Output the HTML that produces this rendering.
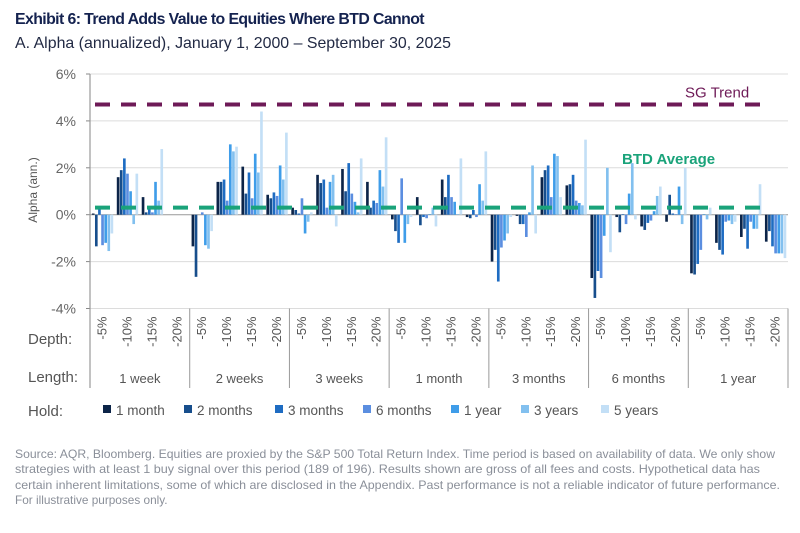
<!DOCTYPE html>
<html><head><meta charset="utf-8"><style>
body{margin:0;background:#fff;width:800px;height:528px;overflow:hidden;font-family:"Liberation Sans",sans-serif;}
</style></head><body>
<svg id="chart" width="800" height="528" xmlns="http://www.w3.org/2000/svg" font-family="Liberation Sans, sans-serif">
<text x="15" y="24" font-size="16" font-weight="bold" fill="#14224f" letter-spacing="-0.6" textLength="409" lengthAdjust="spacingAndGlyphs">Exhibit 6: Trend Adds Value to Equities Where BTD Cannot</text>
<text x="15" y="48" font-size="16" fill="#222a44" textLength="436" lengthAdjust="spacingAndGlyphs">A. Alpha (annualized), January 1, 2000 – September 30, 2025</text>
<g id="grid"></g><g id="bars"></g><g id="axes"></g>
<text transform="translate(37,190) rotate(-90)" text-anchor="middle" font-size="12" fill="#555">Alpha (ann.)</text>
<text x="28" y="344" font-size="15" fill="#555">Depth:</text>
<text x="28" y="382" font-size="15" fill="#555">Length:</text>
<text x="28" y="416" font-size="15" fill="#555">Hold:</text>
<g id="legend"></g>
<g font-size="11.8" fill="#8a8f99">
<text x="15" y="458" textLength="760" lengthAdjust="spacingAndGlyphs">Source: AQR, Bloomberg. Equities are proxied by the S&amp;P 500 Total Return Index. Time period is based on availability of data. We only show</text>
<text x="15" y="473" textLength="745" lengthAdjust="spacingAndGlyphs">strategies with at least 1 buy signal over this period (189 of 196). Results shown are gross of all fees and costs. Hypothetical data has</text>
<text x="15" y="489" textLength="765" lengthAdjust="spacingAndGlyphs">certain inherent limitations, some of which are disclosed in the Appendix. Past performance is not a reliable indicator of future performance.</text>
<text x="15" y="504">For illustrative purposes only.</text>
</g>
</svg>
<script>
const lengths=["1 week","2 weeks","3 weeks","1 month","3 months","6 months","1 year"];
const depths=["-5%","-10%","-15%","-20%"];
const holds=["1 month","2 months","3 months","6 months","1 year","3 years","5 years"];
const yTicks=[6,4,2,0,-2,-4];
const sgTrend=4.7;
const btdAverage=0.3;
// values[length][depth][hold], null = no signal
const values=[
[[0.05,-1.35,0.25,-1.3,-1.2,-1.55,-0.8],[1.6,1.9,2.4,1.75,1.0,-0.4,1.75],[0.75,0.1,0.3,0.1,1.4,0.6,2.8],[null,null,null,null,null,null,null]],
[[-1.35,-2.65,null,0.1,-1.3,-1.45,-0.7],[1.4,1.4,1.5,0.6,3.0,2.7,2.9],[2.05,0.9,1.8,0.7,2.6,1.8,4.4],[0.85,0.7,0.95,0.8,2.1,1.5,3.5]],
[[0.3,0.2,0.05,0.7,-0.8,-0.3,0.1],[1.7,1.35,1.5,0.3,1.4,1.7,-0.5],[1.95,1.0,2.2,0.9,0.55,0.1,2.4],[1.4,0.3,0.6,0.5,1.9,1.2,3.3]],
[[-0.2,-0.7,-1.2,1.55,-1.2,-0.4,-0.1],[0.75,-0.45,-0.1,-0.15,0.02,0.3,-0.5],[1.5,0.75,1.7,0.75,0.55,0.02,2.4],[-0.1,-0.15,0.2,-0.1,1.3,0.6,2.7]],
[[-2.0,-1.5,-2.85,-1.4,-1.1,-0.8,-0.1],[-0.05,-0.4,-0.4,-0.95,0.1,2.1,-0.8],[1.6,1.9,2.1,0.75,2.6,2.5,0.75],[1.25,1.3,1.7,0.6,0.5,0.4,3.2]],
[[-2.7,-3.55,-2.4,-2.7,-0.9,2.0,-1.6],[-0.1,-0.75,0.02,-0.4,0.9,2.2,-0.2],[-0.5,-0.65,-0.35,-0.25,0.15,0.8,1.2],[-0.3,0.85,0.05,0.02,1.2,-0.4,2.0]],
[[-2.5,-2.55,-2.1,-1.5,0.02,-0.2,0.3],[-1.2,-1.5,-1.7,-0.3,-0.25,-0.4,-0.3],[-0.95,-0.6,-1.45,-0.3,-0.6,-0.6,1.3],[-1.15,-0.7,-1.35,-1.65,-1.65,-1.65,-1.85]]
];
const colors=["#0c2448","#174e8c","#1e6cc2","#5b8ee0","#3f9de9","#82c0ef","#c3dff6"];
const NS="http://www.w3.org/2000/svg";
const X0=90,X1=788,Y6=74,PX=23.45;
const y=v=>Y6+(6-v)*PX;
const gW=(X1-X0)/lengths.length, dW=gW/depths.length, bW=dW/8;
const xb=(g,d,h)=>X0+g*gW+d*dW+bW*0.6+h*bW;
function mk(tag,attrs,parent,text){const e=document.createElementNS(NS,tag);for(const k in attrs)e.setAttribute(k,attrs[k]);if(text!==undefined)e.textContent=text;document.getElementById(parent).appendChild(e);return e;}
yTicks.forEach(t=>{
  const l=mk("line",{x1:X0,x2:X1,y1:y(t),y2:y(t),stroke:t===0?"#999":"#dcdcdc","stroke-width":1},"grid");
  
  
  const tk=mk("line",{x1:X0-4,x2:X0,y1:y(t),y2:y(t),stroke:"#888"},"axes");
  const tx=mk("text",{x:X0-14,y:y(t)+5,"text-anchor":"end","font-size":14,fill:"#666"},"axes",t+"%");
  
  
});
const ax=mk("line",{x1:X0,x2:X0,y1:Y6,y2:388,stroke:"#999","stroke-width":1.2},"axes");


values.forEach((grp,g)=>grp.forEach((dp,d)=>dp.forEach((v,h)=>{
  if(v===null)return;
  const r=mk("rect",{x:xb(g,d,h),width:bW*0.85,y:Math.min(y(v),y(0)),height:Math.max(0.6,Math.abs(y(v)-y(0))),fill:colors[h]},"bars");
  
  
})));
const sg=mk("line",{x1:95,x2:766,y1:y(sgTrend),y2:y(sgTrend),stroke:"#6e1a57","stroke-width":4,"stroke-dasharray":"15,11"},"bars");


const sgl=mk("text",{x:685,y:y(sgTrend)-7,"font-size":15,fill:"#6e1a57"},"bars","SG Trend");


const bt=mk("line",{x1:95,x2:766,y1:y(btdAverage),y2:y(btdAverage),stroke:"#1aa37a","stroke-width":4,"stroke-dasharray":"15,11"},"bars");


const btl=mk("text",{x:622,y:164,"font-size":15,"font-weight":"bold",fill:"#1aa37a"},"bars","BTD Average");


lengths.forEach((L,g)=>{
  const sx=X0+(g+1)*gW;
  const s=mk("line",{x1:sx,x2:sx,y1:y(-4),y2:388,stroke:"#999"},"axes");
  
  
  const t=mk("text",{x:X0+g*gW+gW/2,y:383,"text-anchor":"middle","font-size":13,fill:"#555"},"axes",L);
  
  
  depths.forEach((D,d)=>{
    const cx=X0+g*gW+d*dW+dW/2+4;
    const dt=mk("text",{transform:`translate(${cx},${y(-4)+8}) rotate(-90)`,"text-anchor":"end","font-size":13,fill:"#555"},"axes",D);
    
    
  });
});
let lx=103;
const lw=[81,91,88,88,70,80,80];
holds.forEach((H,i)=>{
  const r=mk("rect",{x:lx,y:405,width:8,height:8,fill:colors[i]},"legend");
  
  
  const t=mk("text",{x:lx+13,y:415,"font-size":13.5,fill:"#555"},"legend",H);
  
  
  lx+=lw[i];
});
</script>
</body></html>
